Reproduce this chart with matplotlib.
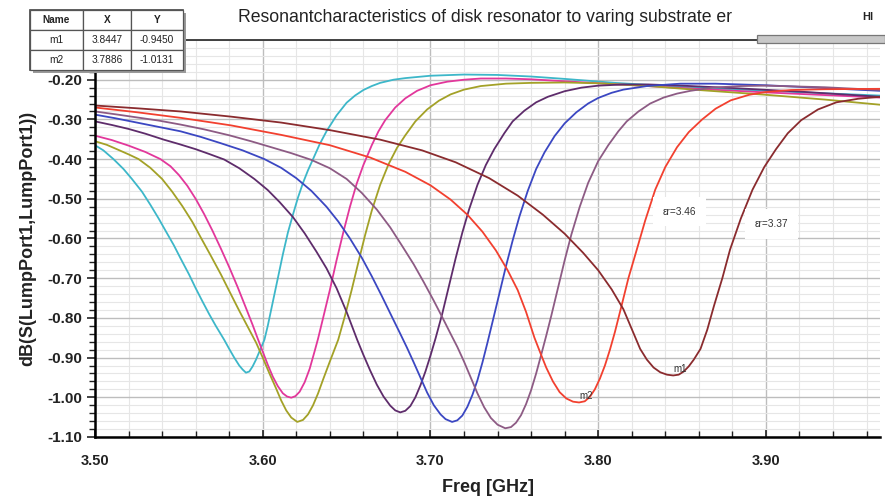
import matplotlib
matplotlib.use("Agg")
import matplotlib.pyplot as plt
from matplotlib.ticker import MultipleLocator, FixedLocator
from matplotlib.patches import Rectangle

plt.rcParams['font.family'] = ['Liberation Sans', 'DejaVu Sans']

# ---- data ----
cyan_f = [3.500, 3.505, 3.511, 3.517, 3.522, 3.528, 3.533, 3.538, 3.542, 3.547, 3.551, 3.556, 3.560, 3.564,
          3.568, 3.572, 3.577, 3.580, 3.583, 3.586, 3.588, 3.590, 3.592, 3.594, 3.596, 3.598, 3.601, 3.603,
          3.606, 3.609, 3.612, 3.615, 3.618, 3.621, 3.624, 3.627, 3.630, 3.634, 3.638, 3.644, 3.650, 3.655,
          3.660, 3.665, 3.670, 3.678, 3.685, 3.700, 3.720, 3.740, 3.760, 3.780, 3.810, 3.850, 3.900, 3.968]
cyan_v = [-0.365, -0.378, -0.400, -0.425, -0.450, -0.482, -0.515, -0.550, -0.580, -0.617, -0.650, -0.690, -0.725, -0.758,
          -0.790, -0.820, -0.855, -0.878, -0.900, -0.920, -0.930, -0.938, -0.935, -0.922, -0.905, -0.885, -0.855, -0.820,
          -0.760, -0.700, -0.640, -0.585, -0.540, -0.497, -0.460, -0.428, -0.400, -0.362, -0.330, -0.290, -0.258, -0.240,
          -0.226, -0.216, -0.208, -0.200, -0.196, -0.190, -0.187, -0.188, -0.192, -0.198, -0.208, -0.218, -0.228, -0.240]

magenta_f = [3.500, 3.510, 3.520, 3.530, 3.539, 3.545, 3.550, 3.555, 3.560, 3.565, 3.570, 3.575, 3.580, 3.585,
             3.590, 3.594, 3.597, 3.600, 3.603, 3.606, 3.609, 3.612, 3.6145, 3.617, 3.6195, 3.622, 3.625, 3.628,
             3.631, 3.633, 3.636, 3.640, 3.644, 3.648, 3.652, 3.656, 3.660, 3.665, 3.669, 3.673, 3.679, 3.685,
             3.692, 3.700, 3.710, 3.720, 3.730, 3.745, 3.760, 3.780, 3.800, 3.850, 3.900, 3.968]
magenta_v = [-0.341, -0.352, -0.366, -0.382, -0.400, -0.418, -0.440, -0.467, -0.500, -0.538, -0.580, -0.625, -0.672, -0.722,
             -0.775, -0.818, -0.852, -0.885, -0.918, -0.948, -0.972, -0.990, -0.998, -1.001, -0.997, -0.986, -0.962, -0.928,
             -0.883, -0.852, -0.800, -0.730, -0.655, -0.585, -0.520, -0.462, -0.415, -0.365, -0.330, -0.302, -0.270, -0.247,
             -0.228, -0.214, -0.205, -0.200, -0.197, -0.197, -0.199, -0.204, -0.209, -0.221, -0.232, -0.245]

olive_f = [3.500, 3.507, 3.513, 3.520, 3.526, 3.533, 3.540, 3.546, 3.552, 3.558, 3.563, 3.569, 3.575, 3.580,
           3.586, 3.591, 3.596, 3.600, 3.604, 3.608, 3.611, 3.614, 3.617, 3.6206, 3.624, 3.627, 3.630, 3.633,
           3.636, 3.640, 3.645, 3.649, 3.653, 3.657, 3.661, 3.665, 3.670, 3.675, 3.680, 3.685, 3.691, 3.698,
           3.705, 3.712, 3.720, 3.730, 3.745, 3.760, 3.780, 3.800, 3.830, 3.860, 3.900, 3.935, 3.968]
olive_v = [-0.355, -0.364, -0.375, -0.388, -0.400, -0.422, -0.450, -0.482, -0.518, -0.558, -0.597, -0.643, -0.690, -0.732,
           -0.782, -0.822, -0.862, -0.900, -0.940, -0.978, -1.008, -1.033, -1.051, -1.062, -1.057, -1.043, -1.020, -0.990,
           -0.955, -0.910, -0.855, -0.795, -0.730, -0.660, -0.592, -0.530, -0.465, -0.413, -0.372, -0.340, -0.305, -0.275,
           -0.253, -0.237, -0.225, -0.216, -0.210, -0.208, -0.207, -0.209, -0.216, -0.226, -0.238, -0.250, -0.263]

purple_f = [3.500, 3.510, 3.520, 3.530, 3.541, 3.550, 3.560, 3.568, 3.577, 3.586, 3.595, 3.603, 3.610, 3.618,
            3.625, 3.632, 3.638, 3.644, 3.650, 3.6563, 3.660, 3.664, 3.668, 3.672, 3.676, 3.679, 3.682, 3.685,
            3.688, 3.691, 3.694, 3.697, 3.700, 3.703, 3.707, 3.711, 3.715, 3.719, 3.723, 3.728, 3.733, 3.738,
            3.744, 3.749, 3.756, 3.763, 3.770, 3.780, 3.790, 3.800, 3.815, 3.830, 3.850, 3.880, 3.920, 3.968]
purple_v = [-0.305, -0.314, -0.324, -0.336, -0.351, -0.362, -0.375, -0.387, -0.401, -0.423, -0.450, -0.478, -0.508, -0.546,
            -0.587, -0.633, -0.675, -0.725, -0.785, -0.855, -0.893, -0.932, -0.968, -0.998, -1.021, -1.033, -1.038, -1.034,
            -1.022, -1.000, -0.970, -0.935, -0.895, -0.852, -0.790, -0.720, -0.650, -0.585, -0.527, -0.465, -0.415, -0.375,
            -0.335, -0.305, -0.278, -0.257, -0.243, -0.229, -0.220, -0.215, -0.212, -0.212, -0.215, -0.221, -0.230, -0.243]

blue_f = [3.500, 3.512, 3.525, 3.538, 3.551, 3.563, 3.575, 3.588, 3.601, 3.611, 3.620, 3.629, 3.638, 3.645,
          3.652, 3.659, 3.665, 3.671, 3.677, 3.682, 3.686, 3.690, 3.694, 3.698, 3.702, 3.706, 3.709, 3.7129,
          3.716, 3.719, 3.722, 3.725, 3.728, 3.731, 3.734, 3.737, 3.741, 3.745, 3.749, 3.753, 3.758, 3.763,
          3.768, 3.774, 3.780, 3.787, 3.794, 3.800, 3.808, 3.815, 3.829, 3.849, 3.870, 3.900, 3.930, 3.968]
blue_v = [-0.288, -0.297, -0.308, -0.319, -0.330, -0.344, -0.360, -0.378, -0.400, -0.422, -0.448, -0.480, -0.520, -0.557,
          -0.600, -0.648, -0.695, -0.745, -0.797, -0.840, -0.875, -0.912, -0.950, -0.988, -1.020, -1.043, -1.055, -1.062,
          -1.058, -1.046, -1.024, -0.994, -0.957, -0.912, -0.862, -0.810, -0.740, -0.670, -0.605, -0.545, -0.480, -0.425,
          -0.383, -0.342, -0.310, -0.282, -0.260, -0.246, -0.233, -0.225, -0.216, -0.210, -0.210, -0.214, -0.220, -0.228]

mauve_f = [3.500, 3.512, 3.525, 3.538, 3.551, 3.565, 3.580, 3.593, 3.605, 3.617, 3.629, 3.640, 3.650, 3.659,
           3.668, 3.676, 3.683, 3.690, 3.696, 3.702, 3.707, 3.712, 3.716, 3.720, 3.724, 3.728, 3.732, 3.736,
           3.740, 3.7446, 3.748, 3.751, 3.754, 3.757, 3.760, 3.763, 3.766, 3.769, 3.772, 3.776, 3.780, 3.784,
           3.789, 3.794, 3.800, 3.806, 3.812, 3.817, 3.824, 3.831, 3.839, 3.847, 3.855, 3.868, 3.885, 3.900,
           3.935, 3.968]
mauve_v = [-0.280, -0.287, -0.295, -0.303, -0.313, -0.325, -0.340, -0.355, -0.370, -0.385, -0.402, -0.423, -0.450, -0.485,
           -0.527, -0.572, -0.618, -0.665, -0.710, -0.757, -0.798, -0.840, -0.873, -0.910, -0.950, -0.990, -1.025, -1.052,
           -1.069, -1.078, -1.075, -1.064, -1.045, -1.017, -0.982, -0.940, -0.893, -0.845, -0.795, -0.725, -0.655, -0.590,
           -0.520, -0.460, -0.405, -0.365, -0.330, -0.305, -0.280, -0.260, -0.245, -0.235, -0.228, -0.220, -0.216, -0.215,
           -0.219, -0.226]

red_f = [3.500, 3.525, 3.551, 3.581, 3.611, 3.640, 3.664, 3.685, 3.700, 3.712, 3.722, 3.731, 3.739, 3.746,
         3.752, 3.757, 3.762, 3.7655, 3.769, 3.773, 3.777, 3.781, 3.785, 3.7886, 3.792, 3.795, 3.798, 3.801,
         3.804, 3.807, 3.810, 3.814, 3.818, 3.823, 3.828, 3.834, 3.840, 3.847, 3.854, 3.862, 3.870, 3.879,
         3.890, 3.900, 3.915, 3.935, 3.968]
red_v = [-0.270, -0.282, -0.296, -0.315, -0.339, -0.365, -0.396, -0.432, -0.466, -0.502, -0.540, -0.583, -0.630, -0.680,
         -0.730, -0.785, -0.850, -0.888, -0.925, -0.960, -0.987, -1.003, -1.011, -1.013, -1.010, -0.999, -0.980, -0.953,
         -0.920, -0.880, -0.835, -0.768, -0.700, -0.628, -0.555, -0.477, -0.420, -0.370, -0.332, -0.300, -0.273, -0.252,
         -0.238, -0.231, -0.226, -0.224, -0.223]

darkred_f = [3.500, 3.525, 3.551, 3.581, 3.611, 3.640, 3.670, 3.695, 3.715, 3.735, 3.752, 3.767, 3.780, 3.791,
             3.800, 3.808, 3.815, 3.820, 3.825, 3.829, 3.833, 3.837, 3.841, 3.8447, 3.848, 3.851, 3.854, 3.857,
             3.861, 3.865, 3.869, 3.874, 3.8786, 3.885, 3.892, 3.899, 3.906, 3.913, 3.921, 3.931, 3.942, 3.955,
             3.968]
darkred_v = [-0.265, -0.272, -0.280, -0.293, -0.308, -0.327, -0.351, -0.378, -0.408, -0.448, -0.492, -0.540, -0.588, -0.636,
             -0.680, -0.728, -0.778, -0.828, -0.878, -0.905, -0.925, -0.937, -0.943, -0.945, -0.943, -0.935, -0.922, -0.905,
             -0.878, -0.830, -0.770, -0.700, -0.628, -0.550, -0.477, -0.420, -0.375, -0.335, -0.302, -0.275, -0.257, -0.248,
             -0.243]

series = [
    (cyan_f, cyan_v, '#3db7c9'),
    (magenta_f, magenta_v, '#e2379b'),
    (olive_f, olive_v, '#a3a127'),
    (purple_f, purple_v, '#5e2c6b'),
    (blue_f, blue_v, '#3b47c2'),
    (mauve_f, mauve_v, '#8d5b84'),
    (red_f, red_v, '#f2402f'),
    (darkred_f, darkred_v, '#8a2b2e'),
]

markers = [("m1", 3.8447, -0.9450), ("m2", 3.7886, -1.0131)]
annotations = [("εr=3.46", 3.8387, -0.532), ("εr=3.37", 3.8935, -0.563)]

table_rows = [["Name", "X", "Y"], ["m1", "3.8447", "-0.9450"], ["m2", "3.7886", "-1.0131"]]

yticks = [-0.20, -0.30, -0.40, -0.50, -0.60, -0.70, -0.80, -0.90, -1.00, -1.10]
xticks = [3.50, 3.60, 3.70, 3.80, 3.90]

W, H = 885, 497
fig = plt.figure(figsize=(W / 100, H / 100), dpi=100)
ax = fig.add_axes([95 / W, 1 - 437 / H, (880 - 95) / W, (437 - 40) / H])

ax.set_xlim(3.50, 3.968)
ax.set_ylim(-1.10, -0.10)

ax.xaxis.set_major_locator(FixedLocator(xticks))
ax.xaxis.set_minor_locator(MultipleLocator(0.02))
ax.yaxis.set_major_locator(FixedLocator(yticks))
ax.yaxis.set_minor_locator(MultipleLocator(0.02))
ax.grid(which='minor', color='#e6e6e6', lw=0.8)
ax.grid(which='major', color='#bdbdbd', lw=1.0)
ax.set_axisbelow(True)

for f, v, c in series:
    ax.plot(f, v, color=c, lw=1.3, solid_joinstyle='round', solid_capstyle='round')

ax.set_xticklabels([f"{t:.2f}" for t in xticks], fontsize=10.5, fontweight='bold', color='#222222')
ax.set_yticklabels([f"{t:.2f}" for t in yticks], fontsize=11, fontweight='bold', color='#222222')
ax.tick_params(axis='both', which='major', direction='out', length=6, width=1.2, color='#222222')
ax.tick_params(axis='both', which='minor', direction='out', length=4, width=1.0, color='#222222')
ax.tick_params(axis='x', which='both', direction='in', pad=12)

ax.spines['right'].set_visible(False)
ax.spines['left'].set_linewidth(1.8)
ax.spines['bottom'].set_linewidth(1.8)
ax.spines['top'].set_linewidth(1.2)
ax.spines['top'].set_color('#222222')

ax.set_xlabel("Freq [GHz]", fontsize=13, fontweight='bold', labelpad=8, color='#222222')
ax.set_ylabel("dB(S(LumpPort1,LumpPort1))", fontsize=13, fontweight='bold', labelpad=8, color='#222222')

for name, x, y in markers:
    ax.text(x, y + 0.004, name, fontsize=7, color='#333333', ha='left', va='bottom')

for txt, x, y in annotations:
    ax.text(x, y, txt, fontsize=7.3, color='#333333', ha='left', va='center',
            bbox=dict(facecolor='white', edgecolor='none', pad=7))

ov = fig.add_axes([0, 0, 1, 1], facecolor='none')
ov.set_xlim(0, W)
ov.set_ylim(H, 0)
ov.axis('off')

ov.text(485, 18, "Resonantcharacteristics of disk resonator to varing substrate er",
        fontsize=12.7, ha='center', va='center', color='#222222')
ov.text(868, 17, "HI", fontsize=8, fontweight='bold', ha='center', va='center', color='#222222')
ov.add_patch(Rectangle((757, 35), 128, 8, facecolor='#c8c8c8', edgecolor='#777777', lw=0.9))

tx0, ty0 = 30, 10
col_w = [53, 48, 52]
row_h = 20
ov.add_patch(Rectangle((tx0 + 3, ty0 + 3), sum(col_w), row_h * 3, facecolor='#9a9a9a', edgecolor='none'))
ov.add_patch(Rectangle((tx0, ty0), sum(col_w), row_h * 3, facecolor='white', edgecolor='#444444', lw=1.2))
for r, row in enumerate(table_rows):
    xx = tx0
    for c, cell in enumerate(row):
        ov.add_patch(Rectangle((xx, ty0 + r * row_h), col_w[c], row_h, facecolor='white',
                               edgecolor='#555555', lw=0.9))
        ov.text(xx + col_w[c] / 2, ty0 + r * row_h + row_h / 2, cell, fontsize=7.3,
                ha='center', va='center', color='#222222',
                fontweight='bold' if r == 0 else 'normal')
        xx += col_w[c]

fig.savefig("out.png", dpi=100)
